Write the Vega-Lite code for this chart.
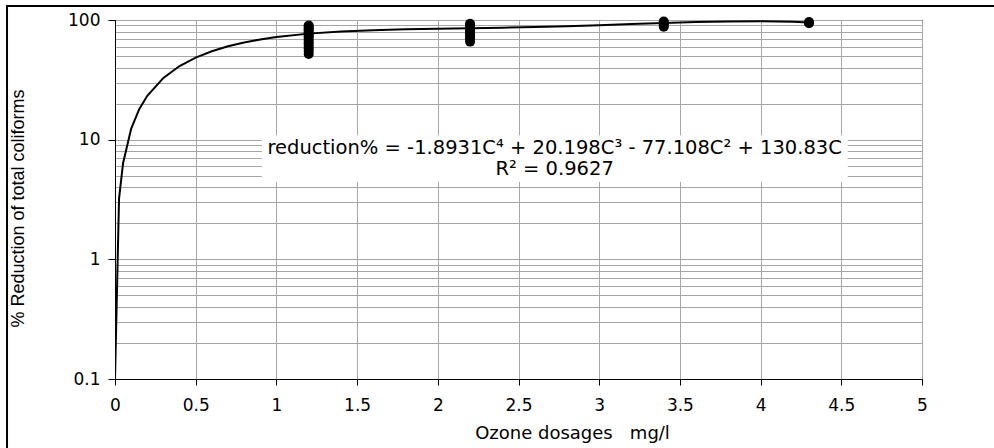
{
  "$schema": "https://vega.github.io/schema/vega-lite/v6.json",
  "width": 807,
  "height": 359,
  "autosize": {"type": "none"},
  "padding": {"left": 115, "top": 20, "right": 72, "bottom": 69},
  "background": "white",
  "config": {
    "font": "DejaVu Sans",
    "view": {"stroke": "#000000", "strokeWidth": 1},
    "axis": {
      "domainColor": "#000000",
      "tickColor": "#000000",
      "labelColor": "#000000",
      "titleColor": "#000000",
      "labelFont": "DejaVu Sans",
      "titleFont": "DejaVu Sans",
      "labelFontSize": 17,
      "titleFontSize": 18,
      "titleFontWeight": "normal",
      "gridColor": "#a6a6a6",
      "gridOpacity": 1,
      "gridWidth": 1
    }
  },
  "datasets": {
    "curve": [
      {"dose": 0, "reduction": 0.1},
      {"dose": 0.025, "reduction": 3.223},
      {"dose": 0.05, "reduction": 6.351},
      {"dose": 0.1, "reduction": 12.332},
      {"dose": 0.15, "reduction": 17.957},
      {"dose": 0.2, "reduction": 23.24},
      {"dose": 0.3, "reduction": 32.839},
      {"dose": 0.4, "reduction": 41.239},
      {"dose": 0.5, "reduction": 48.544},
      {"dose": 0.6, "reduction": 54.857},
      {"dose": 0.7, "reduction": 60.271},
      {"dose": 0.8, "reduction": 64.881},
      {"dose": 0.9, "reduction": 68.772},
      {"dose": 1.0, "reduction": 72.027},
      {"dose": 1.2, "reduction": 76.937},
      {"dose": 1.4, "reduction": 80.181},
      {"dose": 1.6, "reduction": 82.256},
      {"dose": 1.8, "reduction": 83.586},
      {"dose": 2.0, "reduction": 84.522},
      {"dose": 2.2, "reduction": 85.345},
      {"dose": 2.4, "reduction": 86.258},
      {"dose": 2.6, "reduction": 87.398},
      {"dose": 2.8, "reduction": 88.823},
      {"dose": 3.0, "reduction": 90.523},
      {"dose": 3.2, "reduction": 92.412},
      {"dose": 3.4, "reduction": 94.334},
      {"dose": 3.6, "reduction": 96.062},
      {"dose": 3.8, "reduction": 97.284},
      {"dose": 4.0, "reduction": 97.63},
      {"dose": 4.2, "reduction": 96.655},
      {"dose": 4.3, "reduction": 95.501}
    ],
    "observed": [
      {"dose": 1.2, "reduction": 52},
      {"dose": 1.2, "reduction": 55},
      {"dose": 1.2, "reduction": 58},
      {"dose": 1.2, "reduction": 61},
      {"dose": 1.2, "reduction": 64},
      {"dose": 1.2, "reduction": 67},
      {"dose": 1.2, "reduction": 70},
      {"dose": 1.2, "reduction": 73},
      {"dose": 1.2, "reduction": 76},
      {"dose": 1.2, "reduction": 79},
      {"dose": 1.2, "reduction": 82},
      {"dose": 1.2, "reduction": 85},
      {"dose": 1.2, "reduction": 88},
      {"dose": 1.2, "reduction": 90},
      {"dose": 2.2, "reduction": 66},
      {"dose": 2.2, "reduction": 70},
      {"dose": 2.2, "reduction": 74},
      {"dose": 2.2, "reduction": 78},
      {"dose": 2.2, "reduction": 82},
      {"dose": 2.2, "reduction": 86},
      {"dose": 2.2, "reduction": 90},
      {"dose": 2.2, "reduction": 93},
      {"dose": 3.4, "reduction": 88},
      {"dose": 3.4, "reduction": 91},
      {"dose": 3.4, "reduction": 94},
      {"dose": 3.4, "reduction": 97},
      {"dose": 4.3, "reduction": 94},
      {"dose": 4.3, "reduction": 96}
    ],
    "labels": [
      {"dose": 2.724, "reduction": 8.51, "text": "reduction% = -1.8931C⁴ + 20.198C³ - 77.108C² + 130.83C"},
      {"dose": 2.724, "reduction": 5.68, "text": "R² = 0.9627"}
    ]
  },
  "layer": [
    {
      "data": {"values": [{}]},
      "mark": {"type": "rect", "fill": null, "stroke": "#000000", "strokeWidth": 2, "clip": false},
      "encoding": {
        "x": {"datum": -0.669, "type": "quantitative", "scale": {"domain": [0, 5], "nice": false, "zero": false}},
        "x2": {"datum": 5.6},
        "y": {"datum": 131, "type": "quantitative", "scale": {"type": "log", "domain": [0.1, 100], "nice": false}},
        "y2": {"datum": 0.02}
      }
    },
    {
      "data": {"values": [{}]},
      "mark": {"type": "rect", "fill": "#ffffff", "stroke": null},
      "encoding": {
        "x": {"datum": 0.91, "type": "quantitative"},
        "x2": {"datum": 4.54},
        "y": {"datum": 10.9, "type": "quantitative"},
        "y2": {"datum": 4.42}
      }
    },
    {
      "data": {"name": "curve"},
      "mark": {"type": "line", "color": "#000000", "strokeWidth": 2, "clip": true},
      "encoding": {
        "x": {
          "field": "dose", "type": "quantitative",
          "scale": {"domain": [0, 5], "nice": false, "zero": false},
          "axis": {
            "title": "Ozone dosages\u00a0\u00a0\u00a0mg/l",
            "values": [0, 0.5, 1, 1.5, 2, 2.5, 3, 3.5, 4, 4.5, 5],
            "format": "~g",
            "grid": true,
            "tickSize": 6,
            "labelPadding": 12,
            "titleX": 457,
            "titleY": 54,
            "titleAlign": "center",
            "titleBaseline": "middle",
            "labelFlush": false,
            "labelOverlap": false
          }
        },
        "y": {
          "field": "reduction", "type": "quantitative",
          "scale": {"type": "log", "domain": [0.1, 100], "nice": false},
          "axis": {
            "title": "% Reduction of total coliforms",
            "titleFont": "Liberation Sans",
            "titleFontSize": 18,
            "values": [0.1, 0.2, 0.3, 0.4, 0.5, 0.6, 0.7, 0.8, 0.9, 1, 2, 3, 4, 5, 6, 7, 8, 9, 10, 20, 30, 40, 50, 60, 70, 80, 90, 100],
            "format": "~g",
            "labelExpr": "indexof([0.1, 1, 10, 100], datum.value) >= 0 ? datum.label : ''",
            "tickOpacity": {"condition": {"test": "indexof([0.1, 1, 10, 100], datum.value) >= 0", "value": 1}, "value": 0},
            "grid": true,
            "tickSize": 7,
            "labelPadding": 8,
            "labelFlush": false,
            "labelOverlap": false,
            "titleAngle": -90,
            "titleX": -97,
            "titleY": 188,
            "titleAlign": "center",
            "titleBaseline": "middle"
          }
        }
      }
    },
    {
      "data": {"name": "observed"},
      "mark": {"type": "point", "shape": "circle", "filled": true, "color": "#000000", "size": 100, "opacity": 1},
      "encoding": {
        "x": {"field": "dose", "type": "quantitative"},
        "y": {"field": "reduction", "type": "quantitative"}
      }
    },
    {
      "data": {"name": "labels"},
      "mark": {"type": "text", "font": "DejaVu Sans", "fontSize": 19.5, "color": "#000000", "align": "center", "baseline": "middle"},
      "encoding": {
        "x": {"field": "dose", "type": "quantitative"},
        "y": {"field": "reduction", "type": "quantitative"},
        "text": {"field": "text"}
      }
    }
  ]
}
